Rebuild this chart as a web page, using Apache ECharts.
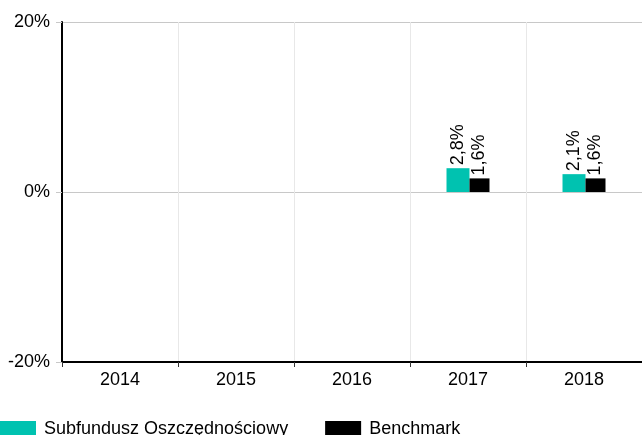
<!DOCTYPE html>
<html>
<head>
<meta charset="utf-8">
<script src="https://cdn.jsdelivr.net/npm/echarts@6/dist/echarts.min.js"></script>
<style>
html,body{margin:0;padding:0;background:#fff;}
#chart{width:642px;height:435px;}
</style>
</head>
<body>
<div id="chart"></div>
<script>
var categories = ['2014', '2015', '2016', '2017', '2018'];
var fundValues = [null, null, null, 2.8, 2.1];
var benchmarkValues = [null, null, null, 1.6, 1.6];
var seriesNames = ['Subfundusz Oszczędnościowy', 'Benchmark'];
var yTicks = { min: -20, max: 20, interval: 20 };

var font = 'Liberation Sans, Arial, sans-serif';
function fmt(v) { return String(v.toFixed(1)).replace('.', ',') + '%'; }

var chart = echarts.init(document.getElementById('chart'), null, { renderer: 'canvas' });
chart.setOption({
  animation: false,
  backgroundColor: '#ffffff',
  textStyle: { fontFamily: font },
  grid: { left: 62, right: 0, top: 22, bottom: 73, containLabel: false },
  legend: {
    left: 0, top: 420, padding: 0,
    itemWidth: 36, itemHeight: 16, itemGap: 37,
    icon: 'rect',
    textStyle: { fontSize: 18, color: '#000', fontFamily: font, padding: [0, 0, 0, 3] },
    data: seriesNames
  },
  xAxis: {
    type: 'category',
    data: categories,
    axisLine: { onZero: false, lineStyle: { color: '#000', width: 2 } },
    axisTick: { show: true, length: 5, lineStyle: { color: '#333' } },
    axisLabel: { fontSize: 18, color: '#000', margin: 9, fontFamily: font },
    splitLine: { show: true, lineStyle: { color: '#e8e8e8', width: 1 } }
  },
  yAxis: {
    type: 'value',
    min: yTicks.min, max: yTicks.max, interval: yTicks.interval,
    axisLine: { show: true, lineStyle: { color: '#000', width: 2 } },
    axisTick: { show: true, length: 6, lineStyle: { color: '#c8c8c8' } },
    axisLabel: { fontSize: 18, color: '#000', margin: 12, formatter: '{value}%', fontFamily: font },
    splitLine: { show: true, lineStyle: { color: '#c8c8c8', width: 1 } }
  },
  series: [
    {
      name: seriesNames[0], type: 'bar', data: fundValues,
      barWidth: 23, barGap: '0%',
      itemStyle: { color: '#00c2b0' },
      label: { show: true, position: 'top', rotate: 90, align: 'left', verticalAlign: 'middle', distance: 3,
        fontSize: 18, color: '#000', fontFamily: font, formatter: function (p) { return fmt(p.value); } }
    },
    {
      name: seriesNames[1], type: 'bar', data: benchmarkValues,
      barWidth: 20, barGap: '0%',
      itemStyle: { color: '#000000' },
      label: { show: true, position: 'top', rotate: 90, align: 'left', verticalAlign: 'middle', distance: 3,
        fontSize: 18, color: '#000', fontFamily: font, formatter: function (p) { return fmt(p.value); } }
    }
  ]
});
</script>
</body>
</html>
